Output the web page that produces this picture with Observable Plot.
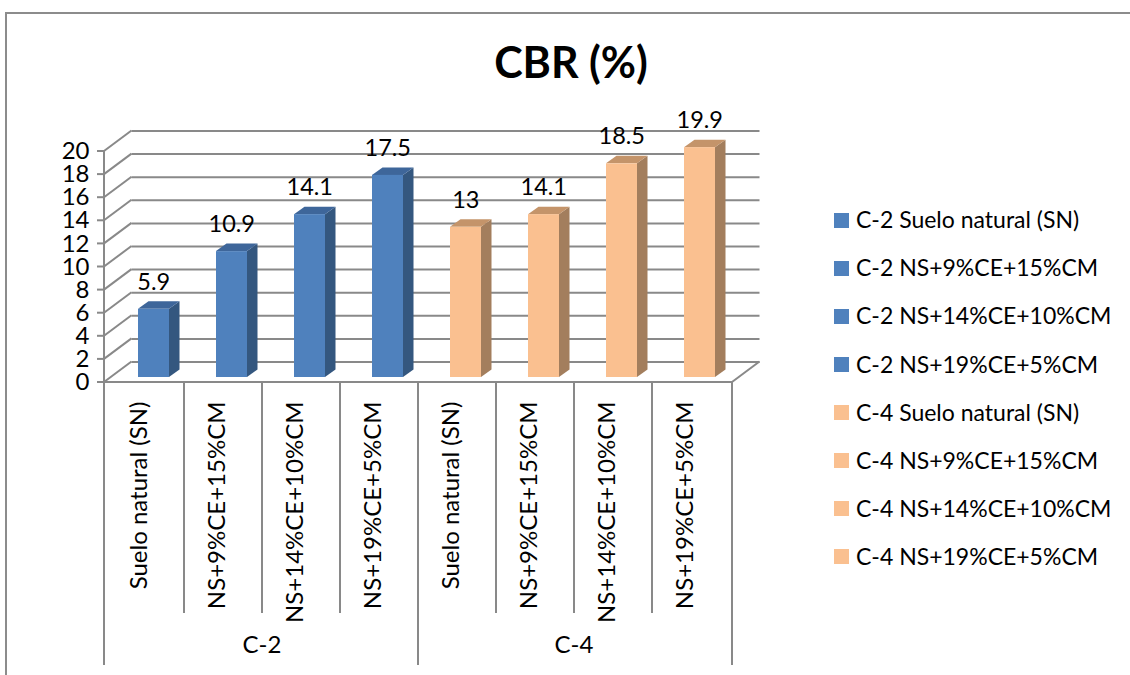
<!DOCTYPE html>
<html>
<head>
<meta charset="utf-8">
<script src="https://cdn.jsdelivr.net/npm/d3@7"></script>
<script src="https://cdn.jsdelivr.net/npm/@observablehq/plot@0.6"></script>
<style>
  body { margin: 0; background: #fff; }
  #chart { position: relative; width: 1130px; height: 675px; overflow: hidden; font-family: Lato, "Open Sans", sans-serif; color: #000; }
  #chart svg { position: absolute; left: 0; top: 0; }
  #border { position: absolute; left: 5px; top: 12px; width: 1300px; height: 800px;
            border-left: 2px solid #8c8c8c; border-top: 2px solid #8c8c8c; }
  #title { position: absolute; left: 0; top: 35.5px; width: 1142px; text-align: center;
           font-weight: bold; font-size: 43px; line-height: 1.2; }
  #legend { position: absolute; left: 834px; top: 196px; }
  .item { height: 48.1px; display: flex; align-items: center; font-size: 23px; line-height: 1.2; white-space: nowrap; }
  .swatch { width: 15px; height: 15px; margin-right: 7px; flex: none; }
</style>
</head>
<body>
<div id="chart">
  <div id="border"></div>
  <div id="title"></div>
  <div id="legend"></div>
</div>
<script>
// CBR (%) for the two soils and their stabilised mixes
const title = "CBR (%)";
const groups = ["C-2", "C-4"];
const mixes = ["Suelo natural (SN)", "NS+9%CE+15%CM", "NS+14%CE+10%CM", "NS+19%CE+5%CM"];
const cbrC2 = [5.9, 10.9, 14.1, 17.5];
const cbrC4 = [13, 14.1, 18.5, 19.9];
const yTicks = [0, 2, 4, 6, 8, 10, 12, 14, 16, 18, 20];

const rows = [
  ...mixes.map((mix, i) => ({group: groups[0], mix, value: cbrC2[i]})),
  ...mixes.map((mix, i) => ({group: groups[1], mix, value: cbrC4[i]}))
].map(d => ({...d, key: `${d.group} ${d.mix}`}));
const keys = rows.map(d => d.key);

// face shading of the pseudo-3D columns
const shade = {
  "C-2": {front: "#4f81bd", side: "#34577f", top: "#3e669a"},
  "C-4": {front: "#fac090", side: "#a37e5d", top: "#c4946a"}
};
const GRID = "#898989";
const WALL = [27.5, -20.5];   // depth of the back wall (px)
const PLANE = [6.7, -5];      // depth at which the columns stand (px)
const COL = {left: 25.3, width: 31, side: 10.5, rise: -7.5};

function pick(args) {
  const scales = args.find(a => a && typeof a.x === "function" && typeof a.y === "function");
  const dims = args.find(a => a && typeof a.marginLeft === "number" && typeof a.width === "number");
  return {scales, dims};
}

// side wall, floor, front axis line, tick marks and category dividers
function walls(...args) {
  const {scales: {x, y}, dims} = pick(args);
  const bw = x.bandwidth();
  const L = dims.marginLeft, R = dims.width - dims.marginRight, B = y(0);
  const g = d3.create("svg:g").attr("stroke", GRID).attr("stroke-width", 2).attr("fill", "none");
  const line = (x1, y1, x2, y2) => g.append("line").attr("x1", x1).attr("y1", y1).attr("x2", x2).attr("y2", y2);
  for (const t of yTicks) {
    line(L, y(t), L + WALL[0], y(t) + WALL[1]);
    line(L - 7, y(t), L, y(t));
  }
  line(R, B, R + WALL[0], B + WALL[1]);
  line(L, B, R, B);
  line(L, y(yTicks[yTicks.length - 1]), L, dims.height - 10);
  keys.forEach((k, i) => {
    if (i === 0) return;
    const outer = i % mixes.length === 0;
    line(x(k), B, x(k), outer ? dims.height - 10 : dims.height - 62);
  });
  line(R, B, R, dims.height - 10);
  // group captions under each block of mixes
  const t = d3.create("svg:g").attr("text-anchor", "middle").attr("font-size", 24).attr("fill", "#000");
  groups.forEach(gr => {
    const ks = keys.filter((k, i) => rows[i].group === gr);
    const cx = (x(ks[0]) + x(ks[ks.length - 1]) + bw) / 2;
    t.append("text").attr("x", cx).attr("y", dims.height - 30).attr("dy", "0.35em").text(gr);
  });
  const root = d3.create("svg:g");
  root.append(() => g.node());
  root.append(() => t.node());
  return root.node();
}

// columns: front face, side face and top face
function columns(...args) {
  const {scales: {x, y}} = pick(args);
  const g = d3.create("svg:g");
  for (const d of rows) {
    const c = shade[d.group];
    const xl = x(d.key) + PLANE[0] + COL.left, xr = xl + COL.width;
    const yt = y(d.value) + PLANE[1], yb = y(0) + PLANE[1];
    const sx = COL.side, sy = COL.rise;
    g.append("polygon").attr("fill", c.side)
      .attr("points", [[xr, yt], [xr + sx, yt + sy], [xr + sx, yb + sy], [xr, yb]].join(" "));
    g.append("polygon").attr("fill", c.top)
      .attr("points", [[xl, yt], [xl + sx, yt + sy], [xr + sx, yt + sy], [xr, yt]].join(" "));
    g.append("rect").attr("fill", c.front)
      .attr("x", xl).attr("y", yt).attr("width", COL.width).attr("height", yb - yt);
  }
  return g.node();
}

const chart = Plot.plot({
  width: 1130,
  height: 675,
  marginLeft: 104,
  marginRight: 398,
  marginTop: 151,
  marginBottom: 293,
  x: {type: "band", domain: keys, padding: 0, axis: null},
  y: {domain: [0, 20], axis: null},
  style: {fontFamily: 'Lato, "Open Sans", sans-serif', fontSize: "23px", background: "transparent", color: "#000"},
  marks: [
    Plot.ruleY(yTicks, {dx: WALL[0], dy: WALL[1], stroke: GRID, strokeWidth: 2}),
    walls,
    columns,
    Plot.text(yTicks, {y: d => d, frameAnchor: "left", textAnchor: "end", dx: -15, text: d => String(d), fontSize: 24}),
    Plot.text(rows, {x: "key", y: "value", text: d => String(d.value), dx: 8.25, dy: -32, fontSize: 23.5}),
    Plot.text(rows, {x: "key", text: "mix", frameAnchor: "bottom", rotate: -90, textAnchor: "end", dx: 1.5, dy: 19, fontSize: 24})
  ]
});
document.getElementById("chart").appendChild(chart);

document.getElementById("title").textContent = title;

const legend = d3.select("#legend");
for (const d of rows) {
  const item = legend.append("div").attr("class", "item");
  item.append("div").attr("class", "swatch").style("background", shade[d.group].front);
  item.append("span").text(d.key);
}
</script>
</body>
</html>
